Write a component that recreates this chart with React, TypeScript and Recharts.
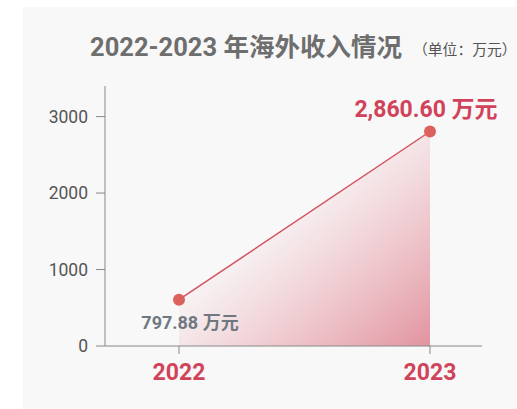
import { ComposedChart, Area, Line, XAxis, YAxis } from "recharts";

const years = ["2022", "2023"];
const revenue = [605, 2805];
const valueLabels = ["797.88 万元", "2,860.60 万元"];
const yTicks = [0, 1000, 2000, 3000];

const data = years.map((year, i) => ({ year, revenue: revenue[i] }));

const FONT = "Roboto, 'Noto Sans CJK SC', sans-serif";

function PointLabel(props: any) {
  const { x, y, index } = props;
  const text = valueLabels[index];
  if (index === 0) {
    return (
      <text x={x + 11} y={y + 23} textAnchor="middle" dominantBaseline="central"
        fill="#6f7880" fontSize={18} fontWeight={700} fontFamily={FONT}>
        {text}
      </text>
    );
  }
  return (
    <text x={x - 4} y={y - 22} textAnchor="middle" dominantBaseline="central"
      fill="#d0435a" fontSize={23} fontWeight={700} fontFamily={FONT}>
      {text}
    </text>
  );
}

export default function App() {
  return (
    <div style={{ position: "absolute", left: 0, top: 0, width: 517, height: 409, fontFamily: FONT }}>
      <div style={{ position: "absolute", left: 23, top: 7, right: 0, bottom: 0, background: "#f8f8f8" }} />
      <div style={{ position: "absolute", left: 90, top: 30, whiteSpace: "nowrap", color: "#6e6e6e", fontWeight: 700, fontSize: 25.5, lineHeight: "34px" }}>
        2022-2023 年海外收入情况
      </div>
      <div style={{ position: "absolute", left: 413, top: 40, whiteSpace: "nowrap", color: "#555", fontSize: 14.8, lineHeight: "20px" }}>
        （单位：万元）
      </div>
      <div style={{ position: "absolute", left: 0, top: 0 }}>
        <ComposedChart width={517} height={409} data={data} margin={{ top: 86, right: 35, bottom: 0, left: 0 }}>
          <defs>
            <linearGradient id="areaFill" x1="0" y1="0" x2="1" y2="1">
              <stop offset="0.35" stopColor="#eba7b0" stopOpacity={0} />
              <stop offset="1" stopColor="#e08e9b" stopOpacity={0.95} />
            </linearGradient>
            <linearGradient id="dotFill" x1="0" y1="0" x2="1" y2="0">
              <stop offset="0" stopColor="#e0625c" />
              <stop offset="1" stopColor="#d9605f" />
            </linearGradient>
          </defs>
          <XAxis dataKey="year" height={63} padding={{ left: 74, right: 52 }}
            stroke="#888" tickSize={8} tickMargin={10} tickLine={{ stroke: "#888" }}
            tick={{ fill: "#d0435a", fontSize: 23, fontWeight: 700, fontFamily: FONT }} />
          <YAxis width={105} domain={[0, 3400]} ticks={yTicks} stroke="#888" tickSize={9} tickMargin={8}
            tick={{ fill: "#555", fontSize: 17.5, fontFamily: FONT }} />
          <Area dataKey="revenue" type="linear" stroke="none" fill="url(#areaFill)" fillOpacity={1} isAnimationActive={false} />
          <Line dataKey="revenue" type="linear" stroke="#d4515e" strokeWidth={1.5}
            dot={{ r: 6, fill: "url(#dotFill)", stroke: "none" }} activeDot={false}
            label={<PointLabel />} isAnimationActive={false} />
        </ComposedChart>
      </div>
    </div>
  );
}
